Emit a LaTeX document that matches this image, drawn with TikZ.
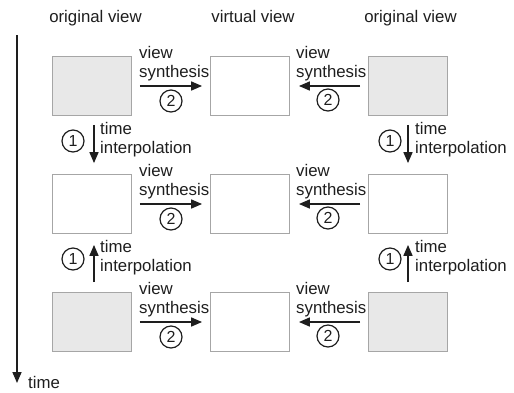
\documentclass[tikz,border=0pt]{standalone}
\usepackage{fontspec}
\setmainfont{Liberation Sans}
\usetikzlibrary{arrows.meta}
\definecolor{boxgray}{HTML}{A6A6A6}
\definecolor{origfill}{HTML}{E8E8E8}
\definecolor{ink}{HTML}{1E1E1E}
\begin{document}
\begin{tikzpicture}[x=1pt,y=-1pt,
  every node/.style={text=ink},
  frame/.style={draw=boxgray, line width=0.8pt, minimum width=79pt, minimum height=59pt, inner sep=0pt, fill=white},
  orig/.style={frame, fill=origfill},
  flow/.style={draw=ink, line width=1.6pt, -{Triangle[length=11pt,width=9pt]}},
  lbl/.style={font=\fontsize{16.8}{19}\selectfont, align=left, inner sep=0pt, anchor=base west},
  hdr/.style={font=\fontsize{16.8}{19}\selectfont, inner sep=0pt, anchor=base},
  numc/.style={circle, draw=ink, line width=1.2pt, minimum size=22pt, inner sep=0pt, font=\fontsize{16}{16}\selectfont}
]
\useasboundingbox (0,0) rectangle (514,392);

% column headers
\node[hdr] (hL) at (95.5,22) {original view};
\node[hdr] (hM) at (253,22) {virtual view};
\node[hdr] (hR) at (410.5,22) {original view};

% frames: original views left and right, virtual view in the middle
\node[orig]  (L1) at (92,86) {};
\node[frame] (M1) at (250,86) {};
\node[orig]  (R1) at (408,86) {};
\node[frame] (L2) at (92,204) {};
\node[frame] (M2) at (250,204) {};
\node[frame] (R2) at (408,204) {};
\node[orig]  (L3) at (92,322) {};
\node[frame] (M3) at (250,322) {};
\node[orig]  (R3) at (408,322) {};

% view synthesis towards the virtual view
\foreach \r/\y in {1/86,2/204,3/322}{
  \draw[flow, shorten <=8pt, shorten >=8pt] (L\r) -- (M\r);
  \draw[flow, shorten <=8pt, shorten >=9pt] (R\r) -- (M\r);
  \node[lbl] (vsl\r) at (139,\y-9) {view\\synthesis};
  \node[lbl] (vsr\r) at (296,\y-9) {view\\synthesis};
  \node[numc] (cl\r) at (171,\y+15) {2};
  \node[numc] (cr\r) at (328,\y+14) {2};
}

% time interpolation between original views
\draw[flow, shorten <=9pt, shorten >=11pt] ([xshift=2pt]L1.south) -- ([xshift=2pt]L2.north);
\draw[flow, shorten <=9pt, shorten >=11pt] (R1.south) -- (R2.north);
\draw[flow, shorten <=10pt, shorten >=11pt] ([xshift=2pt]L3.north) -- ([xshift=2pt]L2.south);
\draw[flow, shorten <=10pt, shorten >=11pt] (R3.north) -- (R2.south);
\foreach \r/\y in {1/115.5,2/233.5}{
  \node[lbl] (til\r) at (100,\y+38) {time\\interpolation};
  \node[lbl] (tir\r) at (415,\y+38) {time\\interpolation};
  \node[numc] (ol\r) at (73,\y+25.5) {1};
  \node[numc] (or\r) at (390,\y+25.5) {1};
}

% time axis
\coordinate (ta) at (17,35);
\coordinate (tb) at (17,383);
\draw[flow] (ta) -- (tb);
\node[hdr, anchor=base west] (tl) at (28,388.5) {time};
\end{tikzpicture}
\end{document}
